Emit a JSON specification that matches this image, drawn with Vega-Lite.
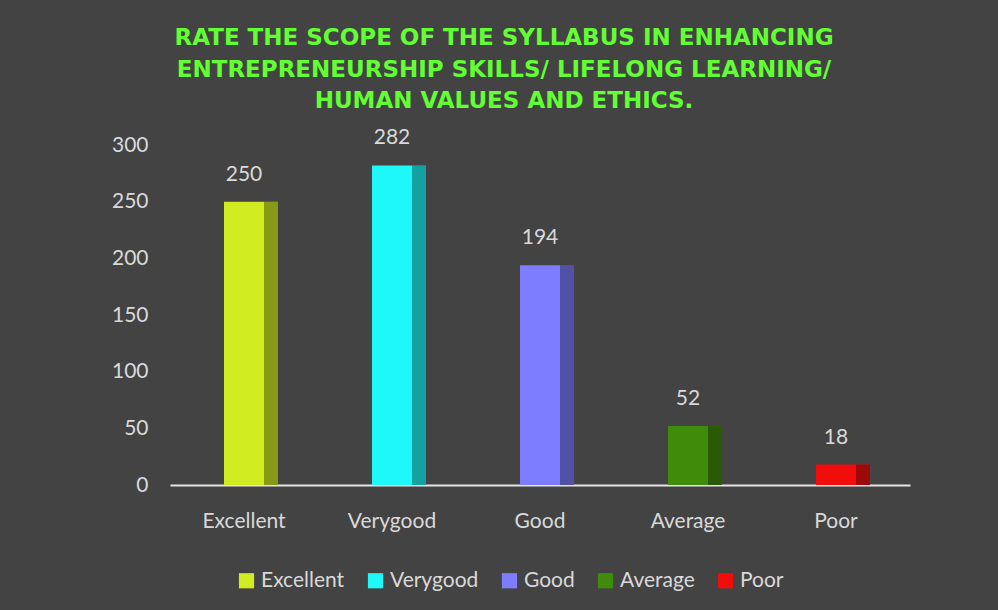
{
  "$schema": "https://vega.github.io/schema/vega-lite/v6.json",
  "autosize": "none",
  "width": 740,
  "height": 340,
  "padding": {"left": 170, "top": 145, "right": 88, "bottom": 125},
  "background": "#434343",
  "title": {
    "text": ["RATE THE SCOPE OF THE SYLLABUS IN ENHANCING", "ENTREPRENEURSHIP SKILLS/ LIFELONG LEARNING/", "HUMAN VALUES AND ETHICS."],
    "font": "DejaVu Sans",
    "fontSize": 23,
    "fontWeight": "bold",
    "color": "#62ff33",
    "lineHeight": 31.5,
    "offset": 14,
    "anchor": "middle",
    "dx": -36
  },
  "data": {
    "values": [
      {"rating": "Excellent", "count": 250},
      {"rating": "Verygood", "count": 282},
      {"rating": "Good", "count": 194},
      {"rating": "Average", "count": 52},
      {"rating": "Poor", "count": 18}
    ]
  },
  "encoding": {
    "x": {
      "field": "rating",
      "type": "nominal",
      "sort": null,
      "axis": {
        "title": null,
        "labelAngle": 0,
        "labelFont": "Lato",
        "labelFontSize": 21,
        "labelColor": "#d9d9d9",
        "labelPadding": 25,
        "ticks": false,
        "domainColor": "#e6e6e6",
        "domainWidth": 2
      }
    },
    "y": {
      "field": "count",
      "type": "quantitative",
      "scale": {"domain": [0, 300]},
      "axis": {
        "title": null,
        "values": [0, 50, 100, 150, 200, 250, 300],
        "labelFont": "Lato",
        "labelFontSize": 21,
        "labelColor": "#d9d9d9",
        "labelPadding": 22,
        "ticks": false,
        "domain": false,
        "grid": false
      }
    }
  },
  "layer": [
    {
      "mark": {"type": "bar", "size": 54, "xOffset": 7},
      "encoding": {
        "color": {
          "field": "rating",
          "type": "nominal",
          "sort": null,
          "scale": {
            "domain": ["Excellent", "Verygood", "Good", "Average", "Poor"],
            "range": ["#d2ec22", "#1ff8f8", "#7d7dff", "#3f8c0a", "#f20d0d"]
          },
          "legend": {
            "title": null,
            "orient": "none",
            "legendX": 66,
            "legendY": 425,
            "direction": "horizontal",
            "symbolType": "square",
            "symbolSize": 230,
            "symbolStrokeWidth": 0,
            "labelFont": "Lato",
            "labelFontSize": 21,
            "labelColor": "#d9d9d9",
            "columnPadding": 20,
            "labelOffset": 4
          }
        }
      }
    },
    {
      "mark": {"type": "bar", "size": 14, "xOffset": 27, "color": "#000000", "opacity": 0.35},
      "encoding": {}
    },
    {
      "mark": {"type": "text", "baseline": "bottom", "dy": -17, "font": "Lato", "fontSize": 21, "color": "#d9d9d9"},
      "encoding": {"text": {"field": "count", "type": "quantitative"}}
    }
  ],
  "config": {"view": {"stroke": null}}
}
